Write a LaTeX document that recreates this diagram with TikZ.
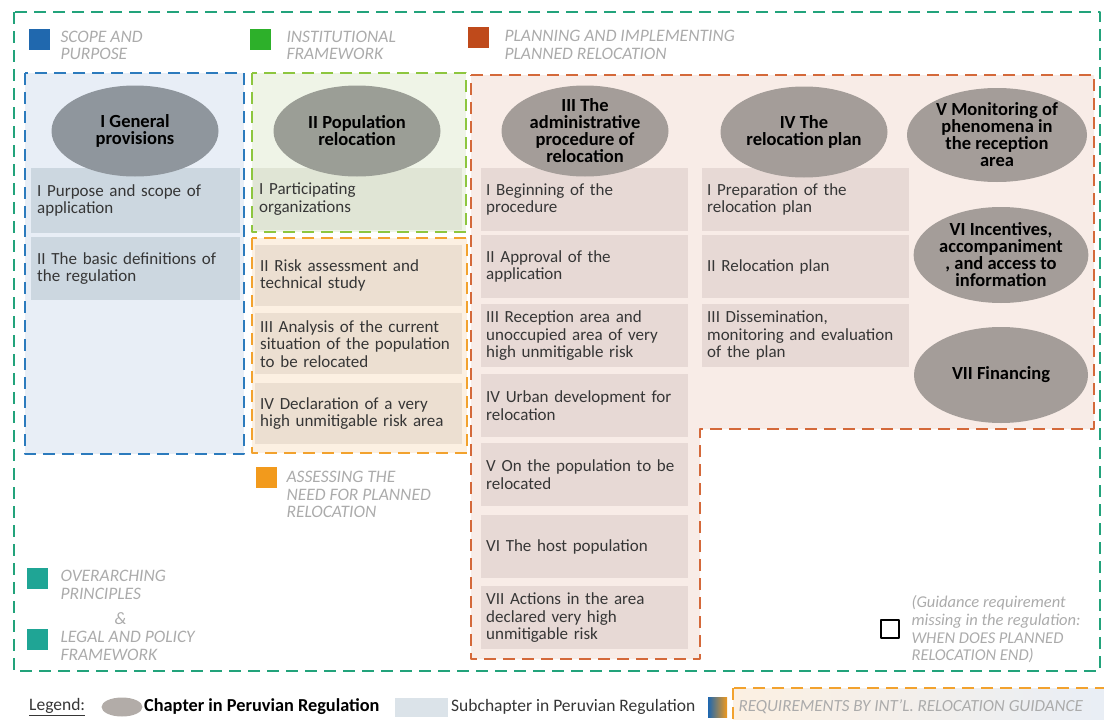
\documentclass[tikz,border=0pt]{standalone}
\usepackage{fontspec}
\setmainfont{Carlito}
\usetikzlibrary{shapes.geometric}
\hyphenpenalty=10000
\definecolor{tealline}{HTML}{22A37B}
\definecolor{blueline}{HTML}{2C7BBD}
\definecolor{bluesq}{HTML}{2068AE}
\definecolor{bluefill}{HTML}{E8EEF6}
\definecolor{bluesub}{HTML}{CCD7E0}
\definecolor{greenline}{HTML}{8DC63F}
\definecolor{greensq}{HTML}{2DB02A}
\definecolor{greenfill}{HTML}{EFF4E7}
\definecolor{greensub}{HTML}{E0E5D5}
\definecolor{orangeline}{HTML}{F2A22E}
\definecolor{orangesq}{HTML}{F29A1C}
\definecolor{orangefill}{HTML}{FCF0E2}
\definecolor{orangesub}{HTML}{ECDFD1}
\definecolor{redline}{HTML}{D4693A}
\definecolor{redsq}{HTML}{BF4A1B}
\definecolor{redfill}{HTML}{F8ECE7}
\definecolor{redsub}{HTML}{E7D9D5}
\definecolor{tealsq}{HTML}{1FA595}
\definecolor{chapI}{HTML}{8F969D}
\definecolor{chapII}{HTML}{9B9E96}
\definecolor{chapgray}{HTML}{A49D99}
\definecolor{note}{HTML}{ABABAB}
\definecolor{ink}{HTML}{363636}
\begin{document}
\begin{tikzpicture}[x=1pt,y=-1pt,line join=round,font=\fontsize{17.5}{17.5}\selectfont,
  dashframe/.style={dash pattern=on 12pt off 7pt,line width=1.8pt},
  sub/.style={anchor=north west,inner xsep=5pt,inner ysep=0pt,text width=197pt,minimum height=62pt,align=left,text=ink,
    font=\fontsize{17}{17.5}\selectfont},
  chapter/.style={ellipse,fill=chapgray,inner sep=0pt,minimum width=167pt,minimum height=91pt,align=center,
    font=\fontsize{18.5}{17}\selectfont\bfseries},
  legtext/.style={anchor=west,align=left,text=note,font=\fontsize{17.5}{17.5}\selectfont\itshape},
  swatch/.style={anchor=north west,minimum size=21pt,inner sep=0pt}]
\useasboundingbox(0,0)rectangle(1104,720);
\draw[dashframe,tealline](14,12)rectangle(1100,671);
% theme areas
\draw[dashframe,blueline,fill=bluefill](25,73)rectangle(244,454);
\draw[dashframe,greenline,fill=greenfill](252,73)rectangle(466,232);
\draw[dashframe,orangeline,fill=orangefill](252,238)rectangle(467,453);
\draw[dashframe,redline,fill=redfill](471,75)-|(1094,429)-|(700,659)-|cycle;
% subchapters
\node[sub,fill=bluesub,inner xsep=6pt,minimum height=65pt](gen1)at(31,168){I Purpose and scope of\\application};
\node[sub,fill=bluesub,inner xsep=6pt,minimum height=63pt](gen2)at(31,237){II The basic definitions of\\the regulation};
\node[sub,fill=greensub,inner xsep=6pt](pop1)at(253,168){I Participating\\organizations};
\foreach \n/\y/\t in{pop2/245/{II Risk assessment and\\technical study},
  pop3/313/{III Analysis of the current\\situation of the population\\to be relocated},
  pop4/383/{IV Declaration of a very\\high unmitigable risk area}}
\node[sub,fill=orangesub,minimum height=61pt](\n)at(255,\y){\t};
\foreach \n/\y/\t in{adm1/168/{I Beginning of the\\procedure},
  adm2/235/{II Approval of the\\application},
  adm3/304/{III Reception area and\\unoccupied area of very\\high unmitigable risk},
  adm4/374/{IV Urban development for\\relocation},
  adm5/443/{V On the population to be\\relocated},
  adm6/515/{VI The host population},
  adm7/586/{VII Actions in the area\\declared very high\\unmitigable risk}}
\node[sub,fill=redsub,minimum height=63pt](\n)at(481,\y){\t};
\foreach \n/\y/\t in{plan1/168/{I Preparation of the\\relocation plan},
  plan2/235/{II Relocation plan},
  plan3/304/{III Dissemination,\\monitoring and evaluation\\of the plan}}
\node[sub,fill=redsub,minimum height=63pt](\n)at(702,\y){\t};
% chapters
\node[chapter,fill=chapI](chI)at(135,131){I General\\provisions};
\node[chapter,fill=chapII](chII)at(357,131){II Population\\relocation};
\node[chapter](chIII)at(585,131){III The\\administrative\\procedure of\\relocation};
\node[chapter](chIV)at(804,132){IV The\\relocation plan};
\node[chapter,minimum width=180pt,minimum height=94pt](chV)at(997,135){V Monitoring of\\phenomena in\\the reception\\area};
\node[chapter,minimum width=174pt,minimum height=96pt](chVI)at(1001,255){VI Incentives,\\accompaniment\\, and access to\\information};
\node[chapter,minimum width=174pt,minimum height=96pt](chVII)at(1001,375){VII Financing};
% theme keys
\node[swatch,fill=bluesq](sqScope)at(29,29){};
\node[legtext](scope)at(57,45.5){SCOPE AND\\PURPOSE};
\node[swatch,fill=greensq](sqInst)at(250,29){};
\node[legtext](inst)at(283,45.5){INSTITUTIONAL\\FRAMEWORK};
\node[swatch,fill=redsq](sqPlan)at(468,27){};
\node[legtext](plan)at(501,45){PLANNING AND IMPLEMENTING\\PLANNED RELOCATION};
\node[swatch,fill=orangesq](sqNeed)at(256,467){};
\node[legtext](need)at(283,494.5){ASSESSING THE\\NEED FOR PLANNED\\RELOCATION};
\node[swatch,fill=tealsq](sqPrin)at(27,568){};
\node[legtext](prin)at(57,585){OVERARCHING\\PRINCIPLES};
\node[legtext](amp)at(111,619){\&};
\node[swatch,fill=tealsq](sqLegal)at(27,629){};
\node[legtext](legal)at(57,646){LEGAL AND POLICY\\FRAMEWORK};
\node[swatch,draw=black,line width=1.6pt,minimum size=18pt](sqMiss)at(880,619){};
\node[legtext,font=\fontsize{16.5}{17.7}\selectfont\itshape](miss)at(908,629.5){(Guidance requirement\\missing in the regulation:\\WHEN DOES PLANNED\\RELOCATION END)};
% legend row
\node[anchor=west,text=ink,inner sep=0pt](leg)at(29,707){\underline{Legend:}};
\node[ellipse,fill=chapgray!85!white,minimum width=41pt,minimum height=19pt,inner sep=0pt](legCh)at(122,707){};
\node[anchor=west,inner sep=0pt,font=\fontsize{18.3}{18}\selectfont\bfseries](legChT)at(144,707){Chapter in Peruvian Regulation};
\node[anchor=west,fill=bluesub!70!white,minimum width=53pt,minimum height=19pt,inner sep=0pt](legSub)at(395,707){};
\node[anchor=west,inner sep=0pt,text=ink](legSubT)at(451,707){Subchapter in Peruvian Regulation};
\node[anchor=west,left color=bluesq,right color=orangesq,minimum width=19pt,minimum height=20pt,inner sep=0pt](legReq)at(708,707){};
\shade[left color=orangefill,right color=bluefill](733,688)rectangle(1120,735);
\draw[dashframe,orangeline](733,688)rectangle(1120,735);
\node[legtext,font=\fontsize{17}{17}\selectfont\itshape](legReqT)at(735,707){REQUIREMENTS BY INT'L. RELOCATION GUIDANCE};
\end{tikzpicture}
\end{document}
